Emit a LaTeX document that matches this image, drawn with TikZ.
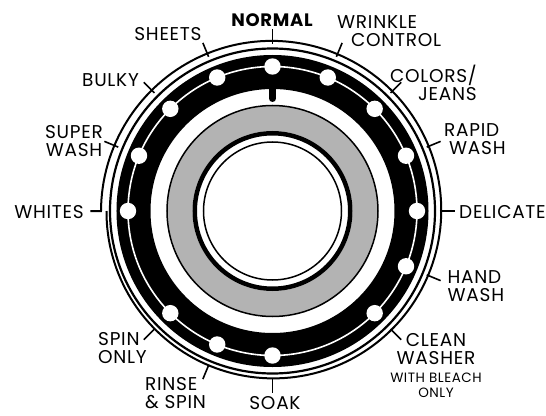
\documentclass[tikz,border=0pt]{standalone}
\usepackage{fontspec}
\setmainfont{Poppins}[LetterSpace=4]
\usepackage{tikz}
\usetikzlibrary{positioning}
\definecolor{ink}{HTML}{000000}
\definecolor{dialgray}{HTML}{B3B3B3}
\tikzset{
  cyclelabel/.style={font=\fontsize{18.5}{18}\selectfont,inner sep=0pt,
                     text=ink},
  labeltick/.style={draw=ink,line width=1.6pt},
  thinring/.style={draw=ink,line width=2pt},
  knobdot/.style={fill=white,draw=none}
}

\begin{document}
\begin{tikzpicture}[x=1pt,y=1pt]
    \path[use as bounding box] (-272.5,-204) rectangle (273.5,211);

    % outer rings and selector band
    \draw[thinring] (180:182pt) -- (180:171.5pt)
      -- plot[domain=180:-180,samples=181] (\x:{171.5-5.5*(180-\x)/360});
    \draw[thinring,line width=2.2pt] (0,0) circle[radius=162.5pt];
    \draw[ink,line width=34pt] (0,0) circle[radius=139pt];
    \draw[white,line width=1.6pt] (0,0) circle[radius=144.5pt];
    \foreach \a in {90,67.5,45,22.5,0,-22.5,-45,-90,-112.5,-135,180,157.5,135,112.5}
      \fill[knobdot] (\a:144.5pt) circle[radius=8.2pt];
    \draw[ink,line width=7pt,line cap=round] (90:124pt) -- (90:112.5pt);

    % knob
    \draw[dialgray,line width=25.5pt] (0,0) circle[radius=92.75pt];
    \draw[ink,line width=1.5pt] (0,0) circle[radius=105.5pt];
    \draw[ink,line width=4.5pt] (0,0) circle[radius=77.75pt];
    \draw[ink,line width=1.5pt] (0,0) circle[radius=69pt];

    % label ticks
    \foreach \a in {90,67.5,45,22.5,0,-22.5,-45,-90,-112.5,-135,157.5,135,112.5}
      \draw[labeltick] (\a:167pt) -- (\a:182pt);

    \node[cyclelabel,anchor=north,font=\fontsize{18}{18}\selectfont\bfseries]
      (normal) at (-0.5,198) {NORMAL};
    \node[cyclelabel,anchor=north west,align=left] (wrinkle) at (64.5,196)
      {WRINKLE\\\hspace*{14pt}CONTROL};
    \node[cyclelabel,anchor=north east,align=right] (colors) at (204.5,146)
      {COLORS/\\JEANS};
    \node[cyclelabel,anchor=north west,align=left] (rapid) at (171.5,88)
      {RAPID\\\hspace*{5pt}WASH};
    \node[cyclelabel,anchor=north west] (delicate) at (186.5,6) {DELICATE};
    \node[cyclelabel,anchor=north west,align=left] (hand) at (175,-59)
      {HAND\\WASH};
    \node[cyclelabel,anchor=north,align=center] (clean) at (163.5,-122)
      {CLEAN\\WASHER\\{\fontsize{13.5}{15}\selectfont WITH BLEACH}\\[-3pt]
       {\fontsize{13.5}{15}\selectfont ONLY}};
    \node[cyclelabel,anchor=north] (soak) at (2.5,-185) {SOAK};
    \node[cyclelabel,anchor=north west,align=left] (rinse) at (-127.5,-166.5)
      {RINSE\\\&~SPIN};
    \node[cyclelabel,anchor=north west,align=left] (spin) at (-174.5,-121)
      {SPIN\\ONLY};
    \node[cyclelabel,anchor=north east] (whites) at (-188.5,6) {WHITES};
    \node[cyclelabel,anchor=north,align=center] (super) at (-198.5,86)
      {SUPER\\WASH};
    \node[cyclelabel,anchor=north west] (bulky) at (-190.5,138) {BULKY};
    \node[cyclelabel,anchor=north] (sheets) at (-104.5,184) {SHEETS};
  \end{tikzpicture}
\end{document}
